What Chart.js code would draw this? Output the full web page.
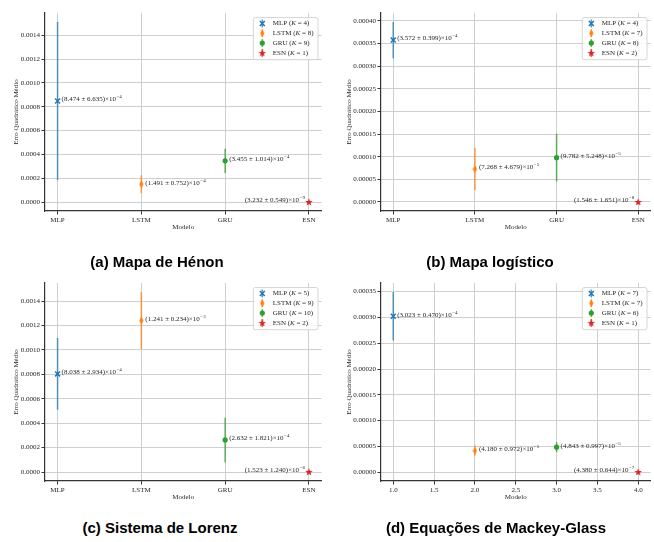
<!DOCTYPE html>
<html>
<head>
<meta charset="utf-8">
<script src="https://cdn.jsdelivr.net/npm/chart.js@4.4.0/dist/chart.umd.min.js"></script>
<style>
  html, body { margin: 0; padding: 0; background: #fff; overflow: hidden; }
  body { width: 654px; height: 542px; position: relative; }
  canvas { position: absolute; }
  .cap { position: absolute; font: bold 15px "Liberation Sans", Arial, sans-serif; color: #000;
         transform: translateX(-50%); white-space: nowrap; line-height: 18px; }
</style>
</head>
<body>
<canvas id="henonChart" width="327" height="240" style="left:0;top:0"></canvas>
<canvas id="logisticChart" width="331" height="240" style="left:325px;top:0"></canvas>
<canvas id="lorenzChart" width="327" height="250" style="left:0;top:260px"></canvas>
<canvas id="mackeyChart" width="331" height="250" style="left:325px;top:260px"></canvas>
<div class="cap" style="left:157px;top:253px">(a) Mapa de Hénon</div>
<div class="cap" style="left:490px;top:253px">(b) Mapa logístico</div>
<div class="cap" style="left:160px;top:519px">(c) Sistema de Lorenz</div>
<div class="cap" style="left:496px;top:519px">(d) Equações de Mackey-Glass</div>
<script>
// Data
const models = ['MLP', 'LSTM', 'GRU', 'ESN'];
const modelColors = ['#1f77b4', '#ff7f0e', '#2ca02c', '#d62728'];

const henonMean = [8.474e-4, 1.491e-4, 3.455e-4, 3.232e-9];
const henonStd = [6.635e-4, 0.752e-4, 1.014e-4, 0.549e-9];
const henonK = [4, 8, 9, 1];

const logisticMean = [3.572e-4, 7.268e-5, 9.782e-5, 1.546e-8];
const logisticStd = [0.399e-4, 4.679e-5, 5.248e-5, 1.651e-8];
const logisticK = [4, 7, 8, 2];

const lorenzMean = [8.038e-4, 1.241e-3, 2.632e-4, 1.523e-6];
const lorenzStd = [2.934e-4, 0.234e-3, 1.821e-4, 1.240e-6];
const lorenzK = [5, 9, 10, 2];

const mackeyMean = [3.023e-4, 4.180e-5, 4.843e-5, 4.380e-7];
const mackeyStd = [0.470e-4, 0.972e-5, 0.997e-5, 0.644e-7];
const mackeyK = [7, 7, 6, 1];

const categoryX = [0, 1, 2, 3];
const numericX = [1, 2, 3, 4];
const numericXTicks = [1.0, 1.5, 2.0, 2.5, 3.0, 3.5, 4.0];

const henonYTicks = [0, 0.0002, 0.0004, 0.0006, 0.0008, 0.0010, 0.0012, 0.0014];
const logisticYTicks = [0, 0.00005, 0.0001, 0.00015, 0.0002, 0.00025, 0.0003, 0.00035, 0.0004];
const lorenzYTicks = [0, 0.0002, 0.0004, 0.0006, 0.0008, 0.0010, 0.0012, 0.0014];
const mackeyYTicks = [0, 0.00005, 0.0001, 0.00015, 0.0002, 0.00025, 0.0003, 0.00035];

const serif = '"Liberation Serif", "Times New Roman", serif';
const textColor = '#262626';

function withAlpha(hex, a) {
    const n = parseInt(hex.slice(1), 16);
    return 'rgba(' + (n >> 16) + ',' + ((n >> 8) & 255) + ',' + (n & 255) + ',' + a + ')';
}

// custom markers: thin diamond and filled star
function diamondMarker(color) {
    const c = document.createElement('canvas');
    c.width = 5; c.height = 8;
    const g = c.getContext('2d');
    g.fillStyle = color;
    g.beginPath();
    g.moveTo(2.5, 0.3); g.lineTo(4.6, 4); g.lineTo(2.5, 7.7); g.lineTo(0.4, 4);
    g.closePath(); g.fill();
    return c;
}
function starMarker(color) {
    const c = document.createElement('canvas');
    c.width = 8; c.height = 8;
    const g = c.getContext('2d');
    g.fillStyle = color;
    g.beginPath();
    for (let i = 0; i < 10; i++) {
        const r = i % 2 === 0 ? 4 : 1.7;
        const a = -Math.PI / 2 + i * Math.PI / 5;
        g.lineTo(4 + r * Math.cos(a), 4.3 + r * Math.sin(a));
    }
    g.closePath(); g.fill();
    return c;
}
const markers = [
    { pointStyle: 'crossRot', radius: 3.5, borderWidth: 1.5 },
    { pointStyle: diamondMarker(modelColors[1]), radius: 4, borderWidth: 0 },
    { pointStyle: 'circle', radius: 2.6, borderWidth: 0 },
    { pointStyle: starMarker(modelColors[3]), radius: 4, borderWidth: 0 }
];

function drawMarker(ctx, i, x, y) {
    const m = markers[i];
    ctx.save();
    ctx.fillStyle = modelColors[i];
    ctx.strokeStyle = modelColors[i];
    if (typeof m.pointStyle !== 'string') {
        ctx.drawImage(m.pointStyle, x - m.pointStyle.width / 2, y - m.pointStyle.height / 2);
    } else if (m.pointStyle === 'circle') {
        ctx.beginPath(); ctx.arc(x, y, m.radius, 0, Math.PI * 2); ctx.fill();
    } else {
        const d = m.radius * Math.SQRT1_2;
        ctx.lineWidth = m.borderWidth;
        ctx.beginPath();
        ctx.moveTo(x - d, y - d); ctx.lineTo(x + d, y + d);
        ctx.moveTo(x - d, y + d); ctx.lineTo(x + d, y - d);
        ctx.stroke();
    }
    ctx.restore();
}

function annotationParts(mean, std) {
    const exp = Math.floor(Math.log10(mean));
    const scale = Math.pow(10, exp);
    return {
        main: '(' + (mean / scale).toFixed(3) + ' \u00b1 ' + (std / scale).toFixed(3) + ')\u00d710',
        sup: '\u2212' + Math.abs(exp)
    };
}

function makePanel(id, mean, std, K, xs, xTicks, xLabel, yTicks, yDecimals, layout) {
    const lows = mean.map((m, i) => m - std[i]);
    const highs = mean.map((m, i) => m + std[i]);
    const lo = Math.min(...lows), hi = Math.max(...highs);
    const yMin = lo - 0.05 * (hi - lo), yMax = hi + 0.05 * (hi - lo);
    const xMin = xs[0] - 0.05 * (xs[3] - xs[0]), xMax = xs[3] + 0.05 * (xs[3] - xs[0]);

    const datasets = [];
    models.forEach((name, i) => {
        datasets.push({
            label: name + ' error',
            data: [{ x: xs[i], y: lows[i] }, { x: xs[i], y: highs[i] }],
            showLine: true,
            borderColor: withAlpha(modelColors[i], 0.75),
            borderWidth: 1.5,
            pointRadius: 0,
            order: 2
        });
        datasets.push({
            label: name,
            data: [{ x: xs[i], y: mean[i] }],
            pointStyle: markers[i].pointStyle,
            pointRadius: markers[i].radius,
            pointBorderWidth: markers[i].borderWidth,
            backgroundColor: modelColors[i],
            borderColor: modelColors[i],
            order: 1
        });
    });

    const tickFont = { family: serif, size: 7 };
    const gridOpts = { color: '#cfcfcf', lineWidth: 1, tickLength: 3.5, tickColor: '#333', tickWidth: 1 };
    const borderOpts = { color: '#333', width: 1.2 };

    const overlay = {
        id: 'overlay',
        afterDatasetsDraw(chart) {
            const ctx = chart.ctx;
            const sx = chart.scales.x, sy = chart.scales.y, area = chart.chartArea;
            // annotations
            ctx.save();
            ctx.fillStyle = textColor;
            ctx.textBaseline = 'middle';
            models.forEach((name, i) => {
                const p = annotationParts(mean[i], std[i]);
                const px = sx.getPixelForValue(xs[i]);
                const py = sy.getPixelForValue(mean[i]) - 1.5;
                ctx.font = '7px ' + serif;
                const w1 = ctx.measureText(p.main).width;
                ctx.font = '5px ' + serif;
                const w2 = ctx.measureText(p.sup).width;
                const x0 = i === 3 ? px - 4 - w1 - w2 - 0.5 : px + 4;
                ctx.font = '7px ' + serif;
                ctx.fillText(p.main, x0, py);
                ctx.font = '5px ' + serif;
                ctx.fillText(p.sup, x0 + w1 + 0.5, py - 2.5);
            });
            ctx.restore();

            // legend
            ctx.save();
            const rowH = 9.8;
            const rows = models.map((name, i) => [name + ' (', 'K', ' = ' + K[i] + ')']);
            let maxW = 0;
            rows.forEach(r => {
                ctx.font = '7px ' + serif;
                let w = ctx.measureText(r[0]).width + ctx.measureText(r[2]).width;
                ctx.font = 'italic 7px ' + serif;
                w += ctx.measureText(r[1]).width;
                maxW = Math.max(maxW, w);
            });
            const boxW = 20 + maxW + 4, boxH = rowH * 4 + 3;
            const bx = area.right - 4 - boxW, by = area.top + 4;
            ctx.beginPath();
            ctx.roundRect(bx + 0.5, by + 0.5, boxW, boxH, 2);
            ctx.fillStyle = 'rgba(255,255,255,0.85)';
            ctx.fill();
            ctx.strokeStyle = '#cccccc';
            ctx.lineWidth = 0.8;
            ctx.stroke();
            ctx.textBaseline = 'middle';
            rows.forEach((r, i) => {
                const cy = by + 6.5 + i * rowH;
                const mx = bx + 9.5;
                ctx.strokeStyle = withAlpha(modelColors[i], 0.75);
                ctx.lineWidth = 1.5;
                ctx.beginPath(); ctx.moveTo(mx, cy - 4); ctx.lineTo(mx, cy + 4); ctx.stroke();
                drawMarker(ctx, i, mx, cy);
                ctx.fillStyle = textColor;
                let tx = bx + 20;
                ctx.font = '7px ' + serif;
                ctx.fillText(r[0], tx, cy);
                tx += ctx.measureText(r[0]).width;
                ctx.font = 'italic 7px ' + serif;
                ctx.fillText(r[1], tx, cy);
                tx += ctx.measureText(r[1]).width;
                ctx.font = '7px ' + serif;
                ctx.fillText(r[2], tx, cy);
            });
            ctx.restore();
        }
    };

    return new Chart(document.getElementById(id), {
        type: 'scatter',
        data: { datasets: datasets },
        options: {
            responsive: false,
            animation: false,
            layout: { padding: { top: layout.top, right: layout.right, left: 0, bottom: 0 } },
            plugins: { legend: { display: false }, tooltip: { enabled: false } },
            scales: {
                x: {
                    type: 'linear',
                    min: xMin,
                    max: xMax,
                    afterBuildTicks: axis => { axis.ticks = xTicks.map(v => ({ value: v })); },
                    afterFit: axis => { axis.height = 29; },
                    ticks: { callback: xLabel, autoSkip: false, maxRotation: 0, padding: 1.5, font: tickFont, color: textColor },
                    grid: gridOpts,
                    border: borderOpts,
                    title: { display: true, text: 'Modelo', font: tickFont, color: textColor, padding: { top: 0, bottom: 8.8 } }
                },
                y: {
                    type: 'linear',
                    min: yMin,
                    max: yMax,
                    afterBuildTicks: axis => { axis.ticks = yTicks.map(v => ({ value: v })); },
                    afterFit: axis => { axis.width = layout.yWidth; },
                    ticks: { callback: v => v.toFixed(yDecimals), padding: 1.5, font: tickFont, color: textColor },
                    grid: gridOpts,
                    border: borderOpts,
                    title: { display: true, text: 'Erro Quadrático Médio', font: tickFont, color: textColor, padding: { top: layout.yTitle, bottom: 0 } }
                }
            }
        },
        plugins: [overlay]
    });
}

const categoryLabel = v => models[v];
const numberLabel = v => v.toFixed(1);

makePanel('henonChart', henonMean, henonStd, henonK, categoryX, categoryX, categoryLabel,
    henonYTicks, 4, { top: 13, right: 4, yWidth: 45, yTitle: 11.8 });
makePanel('logisticChart', logisticMean, logisticStd, logisticK, categoryX, categoryX, categoryLabel,
    logisticYTicks, 5, { top: 13, right: 0, yWidth: 56, yTitle: 19.8 });
makePanel('lorenzChart', lorenzMean, lorenzStd, lorenzK, categoryX, categoryX, categoryLabel,
    lorenzYTicks, 4, { top: 23, right: 4, yWidth: 45, yTitle: 11.8 });
makePanel('mackeyChart', mackeyMean, mackeyStd, mackeyK, numericX, numericXTicks, numberLabel,
    mackeyYTicks, 5, { top: 23, right: 0, yWidth: 56, yTitle: 19.8 });
</script>
</body>
</html>
